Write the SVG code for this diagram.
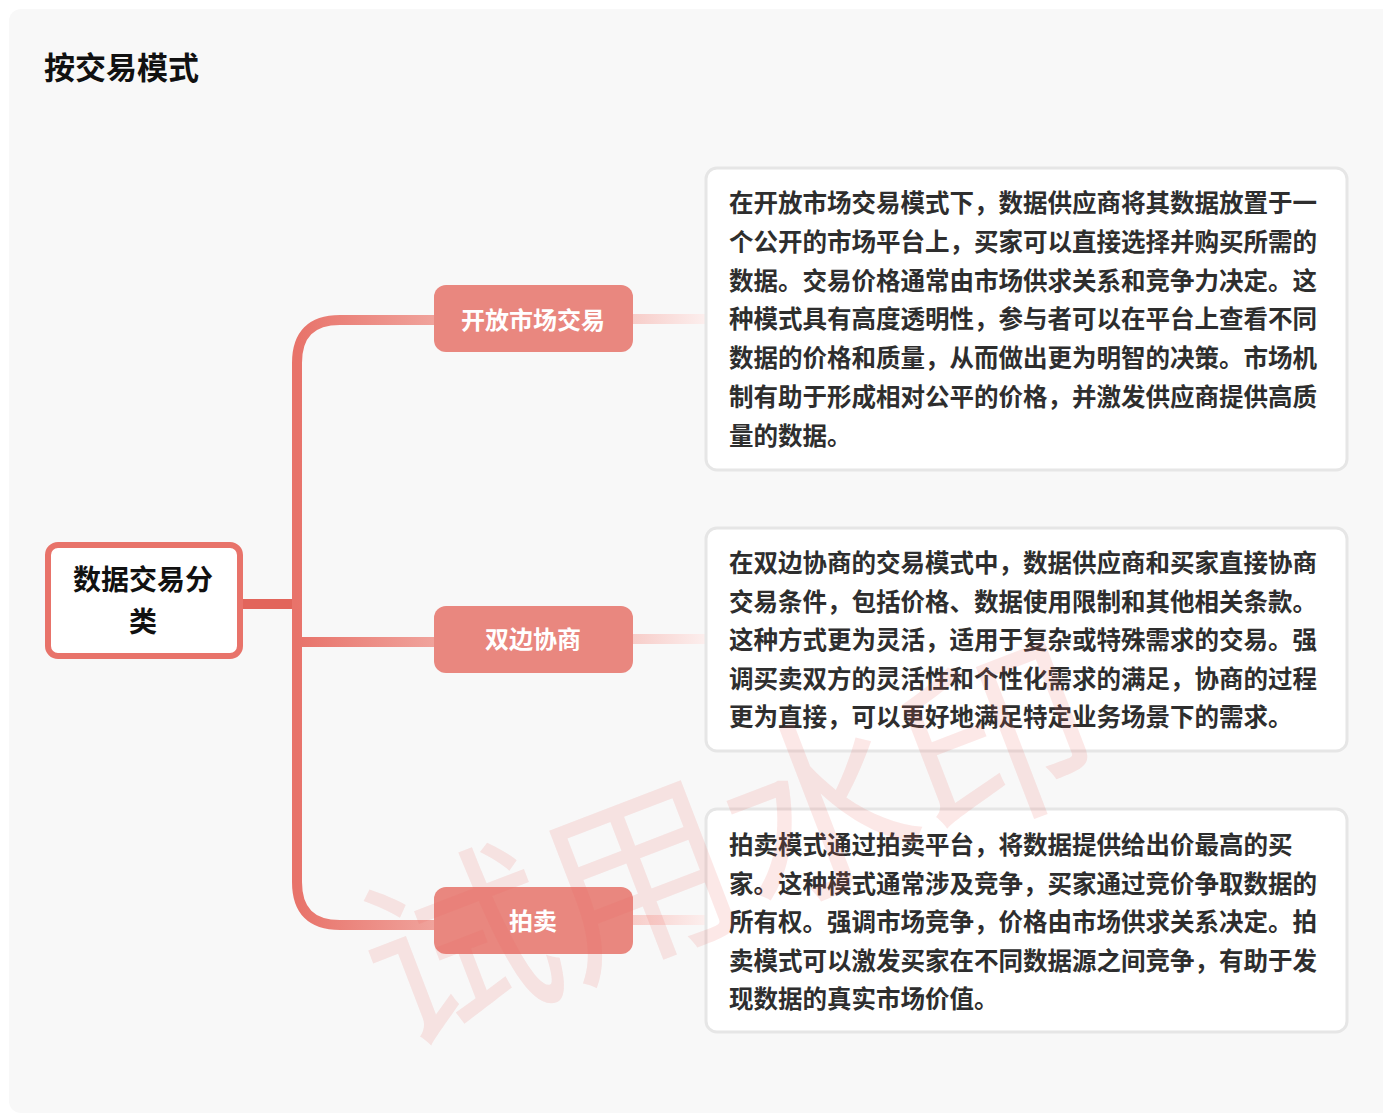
<svg xmlns="http://www.w3.org/2000/svg" width="1383" height="1115" viewBox="0 0 1383 1115">
  <style>
    .cjk { font-family: "Noto Sans CJK SC", "Noto Sans", sans-serif; }
    .title { font-size: 31px; font-weight: 700; fill: #111; }
    .root-text { font-size: 28px; font-weight: 700; fill: #111; text-anchor: middle; }
    .branch-box { fill: #e9877f; }
    .branch-text { font-size: 24px; font-weight: 700; fill: #ffffff; text-anchor: middle; }
    .desc-box { fill: #ffffff; stroke: #e6e6e6; stroke-width: 3; }
    .desc-text { font-size: 24.5px; font-weight: 700; fill: #2e2e2e; }
    .trunk { fill: none; stroke-width: 10; stroke-linecap: butt; }
    .leaf-link { fill: none; stroke-width: 10; }
    .watermark { font-size: 192px; font-weight: 400; fill: #e8645f; fill-opacity: 0.15; text-anchor: middle; }
  </style>
  <defs>
    <linearGradient id="gBranch" gradientUnits="userSpaceOnUse" x1="297" y1="0" x2="434" y2="0">
      <stop offset="0" stop-color="#e8736a"/>
      <stop offset="1" stop-color="#f0a39c"/>
    </linearGradient>
    <linearGradient id="gLeaf" gradientUnits="userSpaceOnUse" x1="633" y1="0" x2="706" y2="0">
      <stop offset="0" stop-color="#f7cdc9"/>
      <stop offset="1" stop-color="#fcefee"/>
    </linearGradient>
  </defs>

  <rect x="9" y="9" width="1390" height="1104" rx="12" fill="#f8f8f8"/>

  <text class="cjk title" x="44" y="79">按交易模式</text>

  <g id="connectors">
    <path class="trunk" stroke="#e2655b" d="M243 604 H298"/>
    <path class="trunk" stroke="url(#gBranch)" d="M434 320 H340 Q297 320 297 363 V882 Q297 925 340 925 H434"/>
    <path class="trunk" stroke="url(#gBranch)" d="M297 642 H434"/>
    <path class="leaf-link" stroke="url(#gLeaf)" d="M633 319 H706"/>
    <path class="leaf-link" stroke="url(#gLeaf)" d="M633 639 H706"/>
    <path class="leaf-link" stroke="url(#gLeaf)" d="M633 920 H706"/>
  </g>

  <g id="root">
    <rect x="48" y="545" width="192" height="111" rx="10" fill="#ffffff" stroke="#e8736a" stroke-width="6"/>
    <text class="cjk root-text" x="143" y="590">数据交易分</text>
    <text class="cjk root-text" x="143" y="632">类</text>
  </g>

  <g id="branch-open">
    <rect class="branch-box" x="434" y="285" width="199" height="67" rx="12"/>
    <text class="cjk branch-text" x="533" y="329">开放市场交易</text>
  </g>
  <g id="branch-bilateral">
    <rect class="branch-box" x="434" y="606" width="199" height="67" rx="12"/>
    <text class="cjk branch-text" x="533" y="648">双边协商</text>
  </g>
  <g id="branch-auction">
    <rect class="branch-box" x="434" y="887" width="199" height="67" rx="12"/>
    <text class="cjk branch-text" x="533" y="930">拍卖</text>
  </g>

  <g id="desc-open">
    <rect class="desc-box" x="706" y="168" width="641" height="302" rx="11"/>
    <text class="cjk desc-text">
      <tspan x="729" y="212">在开放市场交易模式下，数据供应商将其数据放置于一</tspan>
      <tspan x="729" y="251">个公开的市场平台上，买家可以直接选择并购买所需的</tspan>
      <tspan x="729" y="290">数据。交易价格通常由市场供求关系和竞争力决定。这</tspan>
      <tspan x="729" y="328">种模式具有高度透明性，参与者可以在平台上查看不同</tspan>
      <tspan x="729" y="367">数据的价格和质量，从而做出更为明智的决策。市场机</tspan>
      <tspan x="729" y="406">制有助于形成相对公平的价格，并激发供应商提供高质</tspan>
      <tspan x="729" y="445">量的数据。</tspan>
    </text>
  </g>
  <g id="desc-bilateral">
    <rect class="desc-box" x="706" y="528" width="641" height="223" rx="11"/>
    <text class="cjk desc-text">
      <tspan x="729" y="572">在双边协商的交易模式中，数据供应商和买家直接协商</tspan>
      <tspan x="729" y="611">交易条件，包括价格、数据使用限制和其他相关条款。</tspan>
      <tspan x="729" y="649">这种方式更为灵活，适用于复杂或特殊需求的交易。强</tspan>
      <tspan x="729" y="688">调买卖双方的灵活性和个性化需求的满足，协商的过程</tspan>
      <tspan x="729" y="726">更为直接，可以更好地满足特定业务场景下的需求。</tspan>
    </text>
  </g>
  <g id="desc-auction">
    <rect class="desc-box" x="706" y="809" width="641" height="223" rx="11"/>
    <text class="cjk desc-text">
      <tspan x="729" y="854">拍卖模式通过拍卖平台，将数据提供给出价最高的买</tspan>
      <tspan x="729" y="893">家。这种模式通常涉及竞争，买家通过竞价争取数据的</tspan>
      <tspan x="729" y="931">所有权。强调市场竞争，价格由市场供求关系决定。拍</tspan>
      <tspan x="729" y="970">卖模式可以激发买家在不同数据源之间竞争，有助于发</tspan>
      <tspan x="729" y="1008">现数据的真实市场价值。</tspan>
    </text>
  </g>

  <text class="cjk watermark" transform="translate(730 848) rotate(-21)" x="0" y="67">试用水印</text>
</svg>
